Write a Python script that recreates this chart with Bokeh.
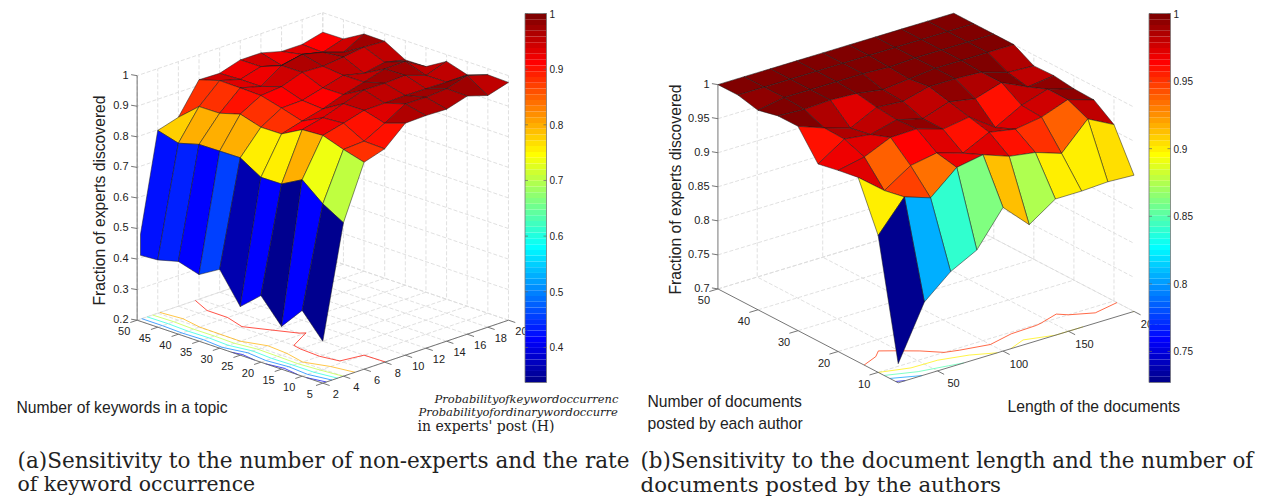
from bokeh.plotting import figure
from bokeh.models import Range1d
from bokeh.core.properties import value
from bokeh.embed import file_html
from bokeh.resources import INLINE
import numpy as np

# ---------- data: panel (a) ----------
keywords = [5, 10, 15, 20, 25, 30, 35, 40, 45, 50]
prob_ratio = [2, 4, 6, 8, 10, 12, 14, 16, 18, 20]
a_h02 = [.337, .415, .340, .418, .359, .458, .418, .438, .420, .415]
a_h04 = [.702, .741, .797, .760, .759, .800, .799, .798, .779, .798]
a_h06 = [.877, .896, .919, .915, .878, .877, .897, .877, .876, .818]
a_h08 = [.898, .900, .936, .931, .897, .917, .935, .937, .938, .918]
a_h10 = [.959, .936, .955, .954, .914, .919, .941, .919, .919, .916]
a_h12 = [.961, .976, .956, .976, .938, .937, .965, .964, .938, .937]
a_h14 = [.959, .975, .958, .975, .956, .955, .962, .978, .919, .937]
a_h16 = [.979, .980, .957, .978, .976, .939, .969, .962, .932, .919]
a_h18 = [.958, 1.00, .956, .955, .978, .952, .979, .939, .916, .919]
a_h20 = [.978, .980, .957, .978, .938, .937, .975, .976, .937, .936]
a_x_ticks = [5, 10, 15, 20, 25, 30, 35, 40, 45, 50]
a_y_ticks = [2, 4, 6, 8, 10, 12, 14, 16, 18, 20]
a_z_ticks = [0.2, 0.3, 0.4, 0.5, 0.6, 0.7, 0.8, 0.9, 1.0]
a_z_labels = ["0.2", "0.3", "0.4", "0.5", "0.6", "0.7", "0.8", "0.9", "1"]
a_levels = [.4, .5, .6, .7, .8, .9]
a_cb_ticks = [.4, .5, .6, .7, .8, .9, 1.0]
a_cb_labels = ["0.4", "0.5", "0.6", "0.7", "0.8", "0.9", "1"]

# ---------- data: panel (b) ----------
doc_length = [20, 40, 60, 80, 100, 120, 140, 160, 180, 200]
doc_count = [5, 10, 15, 20, 25, 30, 35, 40, 45, 50]
b_n05 = [.728, .807, .840, .860, .911, .874, .900, .900, .902, .900]
b_n10 = [.901, .946, .933, .966, .973, .959, .953, .940, .979, .959]
b_n15 = [.971, .940, .965, .972, .960, .979, .972, .978, .992, .980]
b_n20 = [.966, .974, .991, .992, .980, .986, .959, .980, .992, .981]
b_n25 = [.960, .985, .980, .990, .980, .993, .986, .998, .980, .985]
b_n30 = [1.00, .986, .974, .993, .990, 1.00, 1.00, .998, .986, .984]
b_n35 = [1.00, .998, 1.00, .998, .992, .996, 1.00, 1.00, 1.00, 1.00]
b_n40 = [.993, 1.00, 1.00, 1.00, 1.00, .998, 1.00, 1.00, 1.00, 1.00]
b_n45 = [1.00, 1.00, 1.00, 1.00, 1.00, 1.00, 1.00, 1.00, 1.00, 1.00]
b_n50 = [1.00, 1.00, 1.00, 1.00, 1.00, 1.00, 1.00, 1.00, 1.00, 1.00]
b_x_ticks = [50, 100, 150, 200]
b_y_ticks = [10, 20, 30, 40, 50]
b_z_ticks = [0.7, 0.75, 0.8, 0.85, 0.9, 0.95, 1.0]
b_z_labels = ["0.7", "0.75", "0.8", "0.85", "0.9", "0.95", "1"]
b_levels = [.75, .8, .85, .9, .95]
b_cb_ticks = [.75, .8, .85, .9, .95, 1.0]
b_cb_labels = ["0.75", "0.8", "0.85", "0.9", "0.95", "1"]

SANS = value("Liberation Sans")
SERIF = value("DejaVu Serif")
GRID = "#dcdcdc"
AXIS = "#666666"
TICK_TXT = "#222222"


def jet(i, m=64):
    t = (i + 1) / m
    r = np.clip(min(4 * t - 1.5, -4 * t + 4.5), 0, 1)
    g = np.clip(min(4 * t - 0.5, -4 * t + 3.5), 0, 1)
    b = np.clip(min(4 * t + 0.5, -4 * t + 2.5), 0, 1)
    return "#%02x%02x%02x" % (round(r * 255), round(g * 255), round(b * 255))


def clip_left(poly, xmin):
    out = []
    for k in range(len(poly)):
        a, b = poly[k], poly[(k + 1) % len(poly)]
        if a[0] >= xmin:
            out.append(a)
        if (a[0] >= xmin) != (b[0] >= xmin):
            t = (xmin - a[0]) / (b[0] - a[0])
            out.append((xmin, a[1] + t * (b[1] - a[1])))
    return out


def contour_segs(xs, ys, Z, level):
    level = level + 1e-4
    segs = []
    for j in range(len(ys) - 1):
        for i in range(len(xs) - 1):
            cs = [(xs[i], ys[j], Z[j, i]), (xs[i + 1], ys[j], Z[j, i + 1]),
                  (xs[i + 1], ys[j + 1], Z[j + 1, i + 1]), (xs[i], ys[j + 1], Z[j + 1, i])]
            pts = []
            for k in range(4):
                a, b = cs[k], cs[(k + 1) % 4]
                if (a[2] - level) * (b[2] - level) < 0:
                    t = (level - a[2]) / (b[2] - a[2])
                    pts.append((a[0] + t * (b[0] - a[0]), a[1] + t * (b[1] - a[1])))
            for k in range(0, len(pts) - 1, 2):
                segs.append((pts[k], pts[k + 1]))
    return segs


W, H = 1265, 496
p = figure(width=W, height=H, x_range=Range1d(0, W), y_range=Range1d(H, 0),
           toolbar_location=None, output_backend="svg", min_border=0,
           x_axis_type=None, y_axis_type=None, outline_line_color=None)
p.grid.visible = False


def txt(x, y, s, size, font=SANS, align="left", angle=0.0, color=TICK_TXT, style="normal"):
    p.text([x], [y], text=[s], text_font=font, text_font_size=f"{size}px", text_align=align,
           text_baseline="middle", angle=angle, text_color=color, text_font_style=style)


def panel(xs, ys, rows, x_ticks, y_ticks, z_ticks, z_labels, levels, front, ux, uy, kz,
          cmin, cmax, x_off, y_off, zlab_x, cb, cb_ticks, cb_labels, clipx=None):
    Z = np.array(rows)
    x0, x1, y0, y1 = xs[0], xs[-1], ys[0], ys[-1]
    dx, dy = xs[1] - xs[0], ys[1] - ys[0]
    z0, z1 = z_ticks[0], z_ticks[-1]

    def pr(x, y, z):
        a, b = (x - x0) / dx, (y - y0) / dy
        return (front[0] + a * ux[0] + b * uy[0],
                front[1] + a * ux[1] + b * uy[1] - (z - z0) * kz)

    gx, gy = [], []

    def add(pts, X, Y):
        X.append([q[0] for q in pts])
        Y.append([q[1] for q in pts])

    for z in z_ticks:
        add([pr(x0, y1, z), pr(x1, y1, z), pr(x1, y0, z)], gx, gy)
    for x in x_ticks:
        add([pr(x, y0, z0), pr(x, y1, z0), pr(x, y1, z1)], gx, gy)
    for y in y_ticks:
        add([pr(x0, y, z0), pr(x1, y, z0), pr(x1, y, z1)], gx, gy)
    p.multi_line(gx, gy, line_color=GRID, line_width=0.9, line_dash="4 2")

    # contour lines on the floor
    for lev in levels:
        segs = contour_segs(xs, ys, Z, lev)
        idx = int(np.clip((lev - cmin) / (cmax - cmin) * 64, 0, 63))
        sx, sy = [], []
        for a, b in segs:
            add([pr(a[0], a[1], z0), pr(b[0], b[1], z0)], sx, sy)
        p.multi_line(sx, sy, line_color=jet(idx), line_width=0.9, line_alpha=0.8)

    # axes
    ax, ay = [], []
    corner = pr(x1, y0, z0) if ux[0] < 0 else pr(x0, y1, z0)
    corner_top = pr(x1, y0, z1) if ux[0] < 0 else pr(x0, y1, z1)
    add([corner, corner_top], ax, ay)
    add([pr(x0, y0, z0), pr(x1, y0, z0)], ax, ay)
    add([pr(x0, y0, z0), pr(x0, y1, z0)], ax, ay)
    for x in x_ticks:
        add([pr(x, y0, z0), pr(x, y0 - dy * 0.33, z0)], ax, ay)
    for y in y_ticks:
        add([pr(x0, y, z0), pr(x0 - dx * 0.33, y, z0)], ax, ay)
    for z in z_ticks:
        c = pr(x1, y0, z) if ux[0] < 0 else pr(x0, y1, z)
        add([c, (c[0] - 6, c[1] - 1)], ax, ay)
    p.multi_line(ax, ay, line_color=AXIS, line_width=0.9)

    # surface, back to front
    faces = sorted(((i, j) for j in range(9) for i in range(9)), key=lambda t: -(t[0] + t[1]))
    fx, fy, fc = [], [], []
    for i, j in faces:
        poly = [pr(xs[i], ys[j], Z[j, i]), pr(xs[i + 1], ys[j], Z[j, i + 1]),
                pr(xs[i + 1], ys[j + 1], Z[j + 1, i + 1]), pr(xs[i], ys[j + 1], Z[j + 1, i])]
        if clipx is not None:
            poly = clip_left(poly, clipx)
        add(poly, fx, fy)
        fc.append(jet(int(np.clip((Z[j, i] - cmin) / (cmax - cmin) * 64, 0, 63))))
    p.patches(fx, fy, fill_color=fc, line_color="#1a1a1a", line_width=0.6, line_alpha=0.85)

    # tick labels
    for x in x_ticks:
        q = pr(x, y0, z0)
        txt(q[0] + x_off[0], q[1] + x_off[1], str(x), 11, align="center")
    for y in y_ticks:
        q = pr(x0, y, z0)
        txt(q[0] + y_off[0], q[1] + y_off[1], str(y), 11, align="center")
    for z, s in zip(z_ticks, z_labels):
        c = pr(x1, y0, z) if ux[0] < 0 else pr(x0, y1, z)
        txt(zlab_x, c[1] - 1, s, 11, align="right")

    # colour bar
    cx0, cx1, cy_top, cy_bot = cb
    yscale = lambda v: cy_bot - (v - cmin) / (cmax - cmin) * (cy_bot - cy_top)
    lv = [cmin + (cmax - cmin) * k / 64 for k in range(65)]
    p.quad(left=cx0, right=cx1, bottom=[yscale(lv[k]) for k in range(64)],
           top=[yscale(lv[k + 1]) for k in range(64)],
           fill_color=[jet(k) for k in range(64)], line_color=None)
    p.quad(left=[cx0], right=[cx1], bottom=[cy_bot], top=[cy_top], fill_color=None,
           line_color="#777777", line_width=0.8)
    tx, ty = [], []
    for v, s in zip(cb_ticks, cb_labels):
        yy = yscale(v)
        add([(cx0, yy), (cx0 + 3, yy)], tx, ty)
        add([(cx1 - 3, yy), (cx1, yy)], tx, ty)
        txt(cx1 + 3, yy, s, 10)
    p.multi_line(tx, ty, line_color="#666666", line_width=0.7)


panel(keywords, prob_ratio, [a_h02, a_h04, a_h06, a_h08, a_h10, a_h12, a_h14, a_h16, a_h18, a_h20],
      a_x_ticks, a_y_ticks, a_z_ticks, a_z_labels, a_levels,
      (322.3, 382.7), (-20.63, -7.0), (20.63, -7.0), 305.67, 0.337, 1.0,
      (-13.0, 11.0), (13.0, 11.0), 128, (524.5, 546, 13, 382), a_cb_ticks, a_cb_labels, clipx=140.0)

panel(doc_length, doc_count, [b_n05, b_n10, b_n15, b_n20, b_n25, b_n30, b_n35, b_n40, b_n45, b_n50],
      b_x_ticks, b_y_ticks, b_z_ticks, b_z_labels, b_levels,
      (897.7, 382.3), (26.2, -7.93), (-20.03, -10.43), 681.0, 0.727, 1.0,
      (16.0, 12.5), (-14.0, 11.5), 709, (1148.5, 1170, 13, 382), b_cb_ticks, b_cb_labels)

# axis titles
txt(99, 200, "Fraction of experts discovered", 15.7, align="center", angle=np.pi / 2)
txt(675, 189, "Fraction of experts discovered", 15.7, align="center", angle=np.pi / 2)
txt(16, 407, "Number of keywords in a topic", 15.7)
txt(647, 401, "Number of documents", 15.7)
txt(647, 423, "posted by each author", 15.7)
txt(1007, 406, "Length of the documents", 15.7)
txt(434, 398, "Probabilityofkeywordoccurrenc", 11.5, font=SERIF, style="italic")
txt(418, 411, "Probabilityofordinarywordoccurre", 11.5, font=SERIF, style="italic")
txt(417, 425, "in experts' post (H)", 14, font=SERIF)

# captions
txt(17, 460, "(a)Sensitivity to the number of non-experts and the rate", 21.55, font=SERIF)
txt(17, 483.5, "of keyword occurrence", 20.4, font=SERIF)
txt(640, 460, "(b)Sensitivity to the document length and the number of", 21.4, font=SERIF)
txt(640, 483.5, "documents posted by the authors", 21.3, font=SERIF)

open("out.html", "w").write(file_html(p, INLINE))
